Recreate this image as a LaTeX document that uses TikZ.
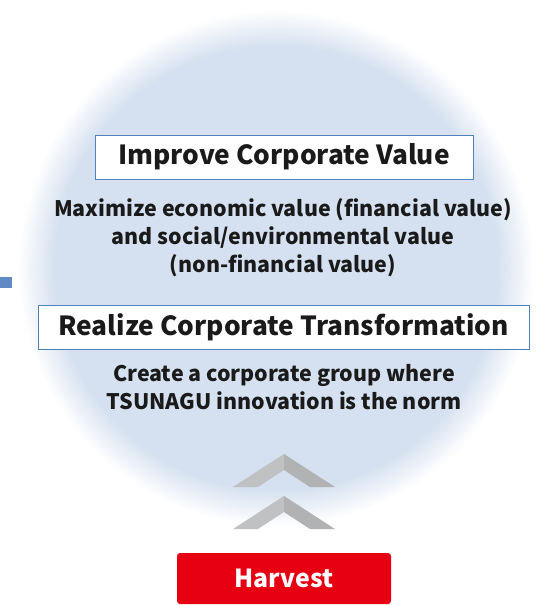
\documentclass[tikz,border=0pt]{standalone}
\usepackage{fontspec}
\setmainfont{Noto Sans CJK JP}

\definecolor{circblue}{RGB}{213,225,240}
\definecolor{framblue}{RGB}{79,129,189}
\definecolor{markblue}{RGB}{95,138,198}
\definecolor{harvred}{RGB}{230,0,18}
\definecolor{chevlight}{RGB}{191,193,195}
\definecolor{chevdark}{RGB}{176,178,180}
\definecolor{inktext}{RGB}{26,26,26}

% soft-edged disc
\pgfdeclareradialshading{softdisc}{\pgfpoint{0bp}{0bp}}{%
  color(0bp)=(circblue); color(21.5bp)=(circblue);
  color(25bp)=(white); color(50bp)=(white)}

\tikzset{
  titlebox/.style={draw=framblue,line width=0.9pt,fill=white,
    font=\bfseries\fontsize{26.3}{30}\selectfont,text=inktext},
  bodytext/.style={align=center,text=inktext,
    font=\bfseries\fontsize{21.4}{28}\selectfont},
  harvbox/.style={fill=harvred,rounded corners=3pt,text=white,
    font=\bfseries\fontsize{24.8}{28}\selectfont}
}

\begin{document}
\begin{tikzpicture}[x=1pt,y=-1pt]

\useasboundingbox (0,0) rectangle (539,605);

%====================================================
% Background disc
%====================================================
\shade[shading=softdisc] (276,268) circle[radius=258];

% small marker on the left
\fill[markblue] (0,277) rectangle (12,288);

%====================================================
% Upper block : corporate value
%====================================================
\node[titlebox,minimum width=378pt,minimum height=44pt] (value) at (284,157)
  {Improve Corporate Value};
\node[bodytext] (valuetxt) at (283,238)
  {Maximize economic value (financial value)\\
   and social/environmental value\\
   (non-financial value)};

%====================================================
% Lower block : transformation
%====================================================
\node[titlebox,minimum width=491pt,minimum height=44pt] (transf) at (283.5,327)
  {Realize Corporate Transformation};
\node[bodytext] (transftxt) at (284,387)
  {Create a corporate group where\\
   TSUNAGU innovation is the norm};

%====================================================
% Chevrons
%====================================================
\foreach \dy in {0,42}{
  \begin{scope}[shift={(0,\dy)}]
    \fill[chevlight] (233,487) -- (284,454) -- (284,470) -- (258,487) -- cycle;
    \fill[chevdark] (284,454) -- (335,487) -- (310,487) -- (284,470) -- cycle;
  \end{scope}
}

%====================================================
% Harvest button
%====================================================
\node[harvbox,minimum width=214pt,minimum height=51pt] (harvest) at (284,578.5)
  {Harvest};

\end{tikzpicture}
\end{document}
